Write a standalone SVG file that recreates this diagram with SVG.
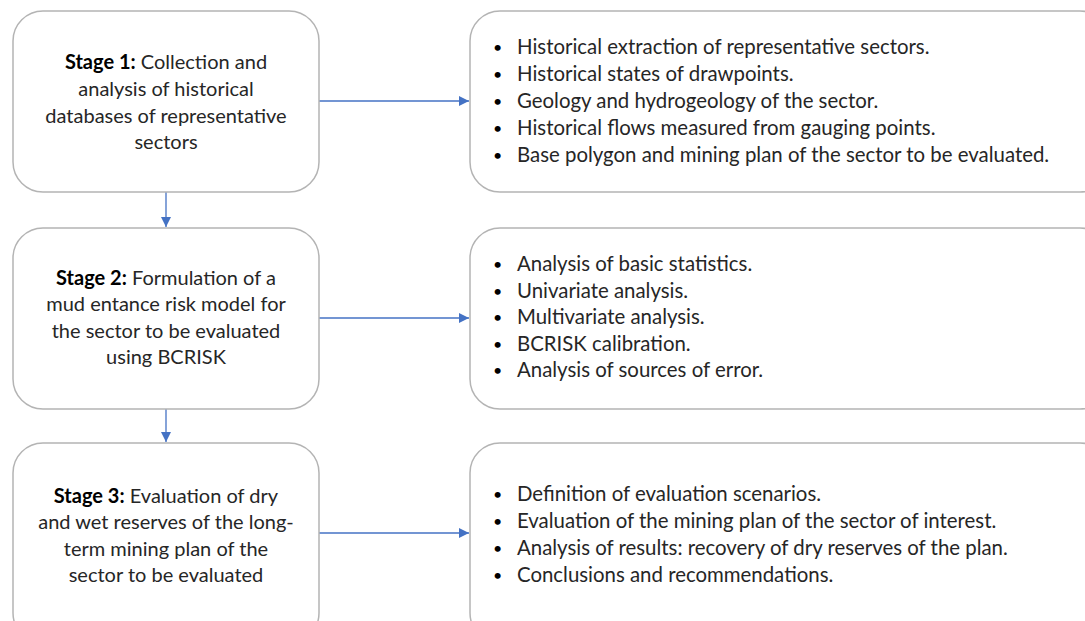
<svg xmlns="http://www.w3.org/2000/svg" width="1085" height="621" viewBox="0 0 1085 621">
<defs>
<marker id="ah" viewBox="0 0 10 10" refX="10" refY="5" markerWidth="10" markerHeight="10" markerUnits="userSpaceOnUse" orient="auto">
<path d="M0,0 L10,5 L0,10 z" fill="#4472C4"/>
</marker>
<style>
.box{fill:#fff;stroke:#b4b4b4;stroke-width:1.5}
.t{font-family:Lato,"Open Sans",sans-serif;font-size:20px;fill:#262626}
.r{font-size:20.4px}
.bu{font-size:16px;fill:#000}
.c{text-anchor:middle}
.b{font-weight:bold;fill:#000}
.cn{stroke:#4472C4;stroke-width:1.3;fill:none;marker-end:url(#ah)}
</style>
</defs>
<rect width="1085" height="621" fill="#fff"/>
<g id="connectors">
<path class="cn" d="M166,192 V227"/>
<path class="cn" d="M166,409 V442"/>
<path class="cn" d="M319,101 H469"/>
<path class="cn" d="M319,318 H469"/>
<path class="cn" d="M319,533 H469"/>
</g>
<g id="stage1">
<rect class="box" x="13" y="11" width="306" height="181" rx="30"/>
<text class="t c" x="166" y="69"><tspan class="b">Stage 1:</tspan> Collection and</text>
<text class="t c" x="166" y="96">analysis of historical</text>
<text class="t c" x="166" y="123">databases of representative</text>
<text class="t c" x="166" y="149">sectors</text>
</g>
<g id="stage2">
<rect class="box" x="13" y="228" width="306" height="181" rx="30"/>
<text class="t c" x="166" y="285"><tspan class="b">Stage 2:</tspan> Formulation of a</text>
<text class="t c" x="166" y="311">mud entance risk model for</text>
<text class="t c" x="166" y="338">the sector to be evaluated</text>
<text class="t c" x="166" y="364">using BCRISK</text>
</g>
<g id="stage3">
<rect class="box" x="13" y="443" width="306" height="200" rx="30"/>
<text class="t c" x="166" y="503"><tspan class="b">Stage 3:</tspan> Evaluation of dry</text>
<text class="t c" x="166" y="529">and wet reserves of the long-</text>
<text class="t c" x="166" y="556">term mining plan of the</text>
<text class="t c" x="166" y="582">sector to be evaluated</text>
</g>
<g id="details1">
<rect class="box" x="470" y="11" width="640" height="181" rx="30"/>
<text class="t bu" x="493" y="53">•</text><text class="t r" x="517" y="54">Historical extraction of representative sectors.</text>
<text class="t bu" x="493" y="80">•</text><text class="t r" x="517" y="81">Historical states of drawpoints.</text>
<text class="t bu" x="493" y="107">•</text><text class="t r" x="517" y="108">Geology and hydrogeology of the sector.</text>
<text class="t bu" x="493" y="134">•</text><text class="t r" x="517" y="135">Historical flows measured from gauging points.</text>
<text class="t bu" x="493" y="161">•</text><text class="t r" x="517" y="162">Base polygon and mining plan of the sector to be evaluated.</text>
</g>
<g id="details2">
<rect class="box" x="470" y="228" width="640" height="181" rx="30"/>
<text class="t bu" x="493" y="270">•</text><text class="t r" x="517" y="271">Analysis of basic statistics.</text>
<text class="t bu" x="493" y="297">•</text><text class="t r" x="517" y="298">Univariate analysis.</text>
<text class="t bu" x="493" y="323">•</text><text class="t r" x="517" y="324">Multivariate analysis.</text>
<text class="t bu" x="493" y="350">•</text><text class="t r" x="517" y="351">BCRISK calibration.</text>
<text class="t bu" x="493" y="376">•</text><text class="t r" x="517" y="377">Analysis of sources of error.</text>
</g>
<g id="details3">
<rect class="box" x="470" y="443" width="640" height="200" rx="30"/>
<text class="t bu" x="493" y="500">•</text><text class="t r" x="517" y="501">Definition of evaluation scenarios.</text>
<text class="t bu" x="493" y="527">•</text><text class="t r" x="517" y="528">Evaluation of the mining plan of the sector of interest.</text>
<text class="t bu" x="493" y="554">•</text><text class="t r" x="517" y="555">Analysis of results: recovery of dry reserves of the plan.</text>
<text class="t bu" x="493" y="581">•</text><text class="t r" x="517" y="582">Conclusions and recommendations.</text>
</g>
</svg>
